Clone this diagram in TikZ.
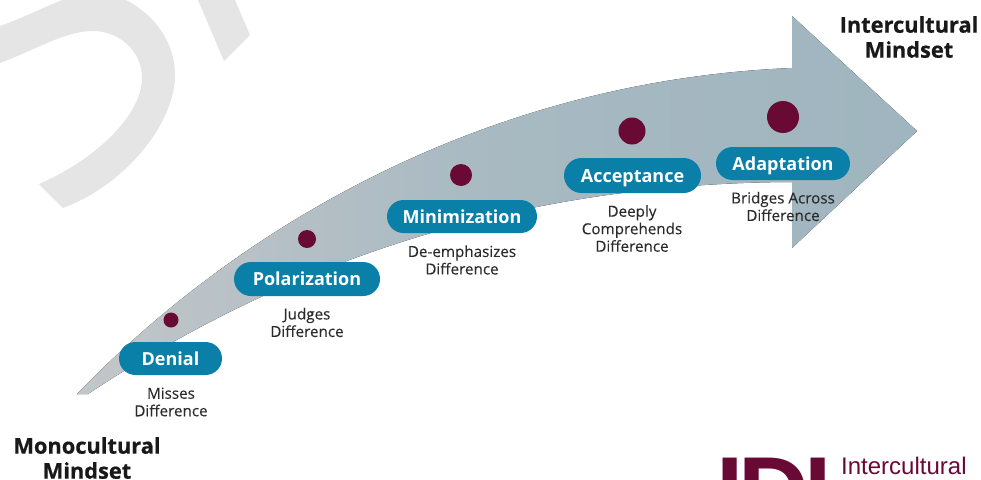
\documentclass[tikz,border=0pt]{standalone}
\usepackage{fontspec}
\setmainfont{Open Sans}
\newfontfamily\logofont{Liberation Sans}
\newfontfamily\heavyfont[FakeBold=0.6]{Open Sans Bold}
\newfontfamily\notefont[FakeBold=0.15]{Open Sans}
\usetikzlibrary{shapes.misc}
\definecolor{pillblue}{HTML}{0A7FA8}
\definecolor{dotred}{HTML}{690A35}
\definecolor{headgrey}{HTML}{9FB5BF}
\definecolor{tailgrey}{HTML}{C2C6C9}
\definecolor{markgrey}{HTML}{E5E5E5}
\definecolor{inkgrey}{HTML}{2B2B2B}
\begin{document}
\begin{tikzpicture}[x=1pt,y=-1pt]
		\tikzstyle{stage}=[rounded rectangle,fill=pillblue,text=white,font=\fontsize{18}{20}\selectfont\bfseries,inner sep=0pt,text height=14pt,text depth=1pt,minimum height=33pt]
		\tikzstyle{note}=[text=inkgrey,align=center,font=\fontsize{15.2}{17.5}\notefont]
		\tikzstyle{mindset}=[text=black!90,align=center,font=\fontsize{21.8}{25}\heavyfont]
		\tikzstyle{dot}=[circle,fill=dotred,inner sep=0pt]
		\useasboundingbox (0,0) rectangle (981,479);
		\clip (0,0) rectangle (981,479);
		% watermark
		\fill[markgrey] (0,26) .. controls (20,19) and (40,9) .. (62,0) -- (126,0)
			.. controls (160,18) and (176,48) .. (175,78)
			.. controls (173,125) and (125,185) .. (63,208) -- (39,184)
			.. controls (95,160) and (142,115) .. (142,78)
			.. controls (142,50) and (118,31) .. (93,31)
			.. controls (65,31) and (35,50) .. (0,63) -- cycle;
		\fill[markgrey] (198,0) -- (235,0) -- (250,35) -- (224,61) -- cycle;
		% arrow
		\fill[left color=tailgrey,right color=headgrey,middle color=headgrey!75!tailgrey]
			(77,394) .. controls (250,215) and (500,80) .. (792,68)
			-- (792,16) -- (917,131) -- (792,248) -- (792,182)
			.. controls (520,183) and (290,260) .. (88,394) -- cycle;
		% stages
		\node[dot,minimum size=15pt](d1)at(171,320){};
		\node[dot,minimum size=18pt](d2)at(307,239){};
		\node[dot,minimum size=22pt](d3)at(461,175){};
		\node[dot,minimum size=27pt](d4)at(632,131){};
		\node[dot,minimum size=32pt](d5)at(783,117){};
		\node[stage,minimum width=103pt](denial)at(170.5,358.5){Denial};
		\node[stage,minimum width=146pt,minimum height=34pt](polar)at(307,279){Polarization};
		\node[stage,minimum width=150pt](minim)at(462,216.5){Minimization};
		\node[stage,minimum width=137pt,minimum height=35pt](accept)at(632.5,175.5){Acceptance};
		\node[stage,minimum width=134pt](adapt)at(783,163.5){Adaptation};
		\node[note](n1)at(171,402){Misses\\Difference};
		\node[note](n2)at(307,322.5){Judges\\Difference};
		\node[note](n3)at(462,260){De-emphasizes\\Difference};
		\node[note](n4)at(632,228.5){Deeply\\Comprehends\\Difference};
		\node[note](n5)at(783,206.5){Bridges Across\\Difference};
		% end labels
		\node[mindset](mono)at(87,458){Monocultural\\Mindset};
		\node[mindset](inter)at(909,37){Intercultural\\Mindset};
		% logo
		\node[text=dotred,inner sep=0pt,anchor=north west,font=\fontsize{98}{98}\logofont\bfseries](logo)at(716,458){I\kern-5pt D\kern-5pt I};
		\node[text=dotred,inner sep=0pt,anchor=west,font=\fontsize{24}{28}\logofont](brand)at(841,466){Intercultural};
		\end{tikzpicture}
\end{document}
